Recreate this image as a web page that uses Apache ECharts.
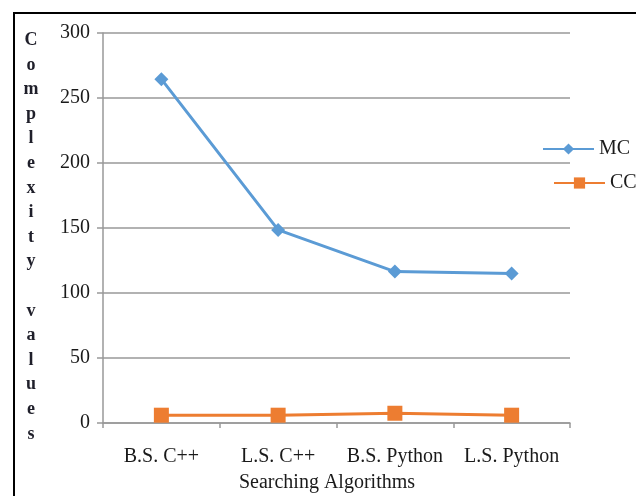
<!DOCTYPE html>
<html><head><meta charset="utf-8">
<script src="https://cdn.jsdelivr.net/npm/echarts@6/dist/echarts.min.js"></script>
<style>html,body{margin:0;padding:0;background:#fff}#c{width:636px;height:496px}</style>
</head><body><div id="c"></div>
<script>
const categories = ['B.S. C++', 'L.S. C++', 'B.S. Python', 'L.S. Python'];
const mcValues = [264.5, 148.5, 116.5, 115];
const ccValues = [6, 6, 7.5, 6];
const yTicks = [0, 50, 100, 150, 200, 250, 300];
const yTitle = 'Complexity values';
const xTitle = 'Searching Algorithms';

const serif = '"Liberation Serif", "DejaVu Serif", serif';
const chart = echarts.init(document.getElementById('c'));
chart.setOption({
  animation: false,
  grid: { left: 103, right: 66, top: 33, bottom: 73, containLabel: false },
  graphic: [
    { type: 'rect', shape: { x: 14, y: 13, width: 700, height: 600 }, style: { fill: 'none', stroke: '#000', lineWidth: 2 } },
    { type: 'text', x: 31, y: 28, style: { text: yTitle.split('').join('\n'), font: 'bold 18px ' + serif, fill: '#1f1f2a', lineHeight: 24.6, align: 'center' } },
    { type: 'text', x: 327, y: 483, style: { text: xTitle, font: '20px ' + serif, fill: '#1a1a1a', align: 'center', verticalAlign: 'middle' } }
  ],
  legend: [
    { data: ['MC'], left: 542, top: 139, padding: 0, itemWidth: 51, itemHeight: 14, itemGap: 5, textStyle: { fontFamily: serif, fontSize: 20, color: '#1a1a1a', padding: [0,0,0,0] } },
    { data: ['CC'], left: 553, top: 173, padding: 0, itemWidth: 51, itemHeight: 14, itemGap: 5, textStyle: { fontFamily: serif, fontSize: 20, color: '#1a1a1a', padding: [0,0,0,0] } }
  ],
  xAxis: {
    type: 'category', data: categories, boundaryGap: true,
    axisLine: { lineStyle: { color: '#999', width: 1.5 } },
    axisTick: { show: true, alignWithLabel: false, length: 5, lineStyle: { color: '#999', width: 1.5 } },
    axisLabel: { fontFamily: serif, fontSize: 20, color: '#1a1a1a', margin: 24, interval: 0 }
  },
  yAxis: {
    type: 'value', min: yTicks[0], max: yTicks[yTicks.length - 1], interval: 50,
    axisLine: { show: true, lineStyle: { color: '#999', width: 1.5 } },
    axisTick: { show: true, length: 6, lineStyle: { color: '#999', width: 1.5 } },
    axisLabel: { fontFamily: serif, fontSize: 20, color: '#1a1a1a', margin: 13 },
    splitLine: { lineStyle: { color: '#999', width: 1.5 } }
  },
  series: [
    { name: 'MC', type: 'line', data: mcValues, symbol: 'diamond', symbolSize: 14, color: '#5B9BD5', lineStyle: { width: 3, color: '#5B9BD5' }, itemStyle: { color: '#5B9BD5' } },
    { name: 'CC', type: 'line', data: ccValues, symbol: 'rect', symbolSize: 15, color: '#ED7D31', lineStyle: { width: 3, color: '#ED7D31' }, itemStyle: { color: '#ED7D31' } }
  ]
});
</script></body></html>
